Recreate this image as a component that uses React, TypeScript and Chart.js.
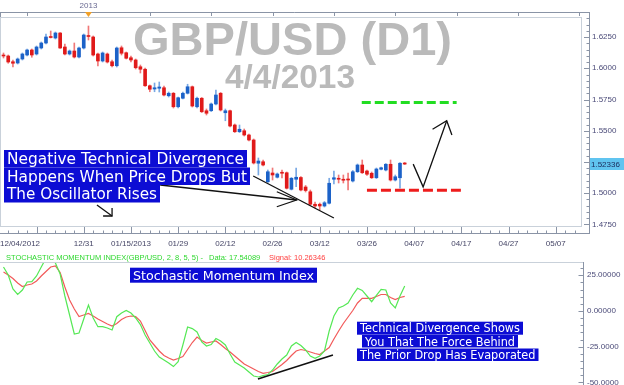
import React, { useEffect, useRef } from "react";
import { Chart, registerables } from "chart.js";

Chart.register(...registerables);

// ---------------- DATA ----------------
const opens = [
  1.6106, 1.6098, 1.6052, 1.6042, 1.6074, 1.6106, 1.6146, 1.6114, 1.6162, 1.6202,
  1.6254, 1.6242, 1.6282, 1.6170, 1.6114, 1.6138, 1.6090, 1.6162, 1.6262, 1.6250,
  1.6114, 1.6058, 1.6114, 1.6052, 1.6020, 1.6164, 1.6124, 1.6084, 1.6066, 1.6012,
  1.5992, 1.5860, 1.5834, 1.5840, 1.5844, 1.5780, 1.5800, 1.5692, 1.5760, 1.5800,
  1.5852, 1.5692, 1.5760, 1.5660, 1.5660, 1.5714, 1.5800, 1.5644, 1.5660, 1.5546,
  1.5492, 1.5500, 1.5466, 1.5426, 1.5240, 1.5252, 1.5092, 1.5162, 1.5128, 1.5164,
  1.5164, 1.5032, 1.5112, 1.5126, 1.5050, 1.5012, 1.4912, 1.4912, 1.4898, 1.4920,
  1.5112, 1.5120, 1.5112, 1.5114, 1.5098, 1.5172, 1.5226, 1.5178, 1.5160, 1.5124,
  1.5192, 1.5186, 1.5232, 1.5106, 1.5124, 1.5242,
];
const highs = [
  1.6122, 1.6106, 1.6066, 1.6082, 1.6122, 1.6154, 1.6154, 1.6178, 1.6210, 1.6274,
  1.6298, 1.6290, 1.6286, 1.6194, 1.6146, 1.6202, 1.6170, 1.6274, 1.6338, 1.6258,
  1.6122, 1.6130, 1.6122, 1.6066, 1.6170, 1.6178, 1.6130, 1.6098, 1.6074, 1.6026,
  1.6002, 1.5866, 1.5882, 1.5890, 1.5858, 1.5810, 1.5806, 1.5770, 1.5810, 1.5872,
  1.5858, 1.5770, 1.5766, 1.5674, 1.5722, 1.5826, 1.5806, 1.5674, 1.5666, 1.5554,
  1.5546, 1.5514, 1.5474, 1.5434, 1.5282, 1.5266, 1.5186, 1.5202, 1.5162, 1.5186,
  1.5170, 1.5126, 1.5202, 1.5134, 1.5062, 1.5026, 1.4930, 1.4922, 1.4934, 1.5120,
  1.5178, 1.5146, 1.5146, 1.5162, 1.5182, 1.5234, 1.5266, 1.5186, 1.5170, 1.5202,
  1.5210, 1.5238, 1.5266, 1.5146, 1.5246, 1.5246,
];
const lows = [
  1.6082, 1.6040, 1.6010, 1.6034, 1.6066, 1.6098, 1.6088, 1.6106, 1.6154, 1.6194,
  1.6242, 1.6234, 1.6158, 1.6106, 1.6106, 1.6082, 1.6082, 1.6154, 1.6226, 1.6098,
  1.6018, 1.6050, 1.6042, 1.6010, 1.6010, 1.6106, 1.6074, 1.6050, 1.5994, 1.5962,
  1.5854, 1.5812, 1.5812, 1.5810, 1.5778, 1.5770, 1.5682, 1.5682, 1.5754, 1.5794,
  1.5690, 1.5682, 1.5646, 1.5626, 1.5654, 1.5706, 1.5658, 1.5580, 1.5530, 1.5486,
  1.5486, 1.5458, 1.5418, 1.5234, 1.5146, 1.5218, 1.5086, 1.5106, 1.5122, 1.5122,
  1.5034, 1.5026, 1.5052, 1.5018, 1.5010, 1.4902, 1.4882, 1.4866, 1.4890, 1.4914,
  1.5074, 1.5082, 1.5082, 1.5026, 1.5090, 1.5166, 1.5158, 1.5142, 1.5118, 1.5118,
  1.5186, 1.5178, 1.5098, 1.5098, 1.5040, 1.5230,
];
const closes = [
  1.6098, 1.6050, 1.6040, 1.6074, 1.6114, 1.6146, 1.6106, 1.6170, 1.6202, 1.6250,
  1.6246, 1.6282, 1.6162, 1.6114, 1.6138, 1.6090, 1.6162, 1.6266, 1.6254, 1.6106,
  1.6058, 1.6122, 1.6050, 1.6020, 1.6162, 1.6120, 1.6080, 1.6066, 1.6004, 1.5992,
  1.5860, 1.5832, 1.5844, 1.5850, 1.5786, 1.5800, 1.5692, 1.5764, 1.5800, 1.5852,
  1.5698, 1.5760, 1.5652, 1.5640, 1.5714, 1.5786, 1.5666, 1.5660, 1.5538, 1.5492,
  1.5512, 1.5466, 1.5426, 1.5242, 1.5258, 1.5226, 1.5172, 1.5146, 1.5154, 1.5160,
  1.5040, 1.5120, 1.5128, 1.5026, 1.5022, 1.4912, 1.4898, 1.4898, 1.4924, 1.5080,
  1.5124, 1.5112, 1.5104, 1.5106, 1.5172, 1.5226, 1.5164, 1.5152, 1.5124, 1.5194,
  1.5204, 1.5232, 1.5106, 1.5132, 1.5240, 1.52336,
];
const lastPrice = 1.52336;

const smiValues = [
  30.8, 25.2, 15.4, 11.6, 14.7, 20.3, 20.5, 24.5, 30.8, 36.9,
  36.9, 33.6, 25.9, 10.5, -2.8, -16.1, -15.4, -5.6, 4.2, -4.9,
  -11.0, -11.0, -11.9, -13.3, -4.0, -1.4, 0.4, -1.4, -4.9, -9.5,
  -16.8, -22.4, -28.0, -32.2, -34.3, -36.4, -38.9, -35.4, -23.8, -11.2,
  -12.3, -14.7, -21.7, -24.5, -23.5, -19.3, -21.0, -23.8, -30.1, -35.7,
  -37.8, -39.9, -42.7, -45.5, -46.2, -45.2, -44.5, -41.3, -37.1, -33.6,
  -30.8, -24.5, -22.1, -24.2, -27.3, -31.5, -33.1, -31.5, -28.0, -14.0,
  -3.5, 2.1, 3.5, 5.6, 11.2, 15.9, 14.4, 10.5, 6.5, 10.9,
  15.1, 14.7, 5.6, 2.1, 10.5, 17.54089,
];
const signalValues = [
  27.3, 25.2, 22.75, 19.6, 17.15, 18.2, 18.9, 21.0, 24.5, 27.65,
  30.8, 31.5, 26.95, 16.8, 7.7, 1.4, -3.85, -2.8, -1.75, -3.5,
  -5.6, -7.35, -9.1, -10.5, -8.75, -5.95, -4.2, -3.5, -3.85, -7.0,
  -13.65, -20.3, -24.15, -28.0, -31.15, -32.9, -34.3, -33.25, -31.85, -26.95,
  -22.05, -18.2, -20.65, -22.4, -21.7, -21.0, -23.45, -26.25, -28.7, -31.5,
  -34.3, -37.1, -38.85, -40.6, -42.35, -43.6, -43.05, -42.35, -39.9, -37.45,
  -34.65, -31.15, -28.0, -26.95, -27.65, -28.7, -29.75, -30.45, -28.0, -25.55,
  -19.6, -14.0, -8.75, -4.2, 0.35, 5.6, 8.9, 8.9, 8.9, 10.15,
  11.55, 11.55, 9.45, 8.05, 9.45, 10.26346,
];
const smiLastText = "17.54089";
const signalLastText = "10.26346";

const priceTicks = [1.475, 1.5, 1.525, 1.55, 1.575, 1.6, 1.625];
const dateTickBars = [7, 17, 27, 37, 47, 57, 67, 77, 87, 97, 107, 117];
const dateTickLabels = ["", "12/31", "01/15/2013", "01/29", "02/12", "02/26", "03/12", "03/26", "04/07", "04/17", "04/27", "05/07"];
const firstDateLabel = "12/04/2012";
const smiTicks = [25, 0, -25, -50];
const smiTickLabels = ["25.00000", "0.00000", "-25.0000", "-50.0000"];
const yearMarkerBar = 18;
const yearLabel = "2013";
const targetLevel = 1.5727;
const supportLevel = 1.5025;

// ---------------- STYLE / LAYOUT ----------------
const X_MIN = -0.742;
const X_MAX = 122.56;
const TOP_H = 252;
const BOT_H = 133;
const UP = "#1c62c8";
const DOWN = "#e01a1a";
const UP_WICK = "#78a8e4";
const DOWN_WICK = "#f07878";
const AXIS = "#8a94a6";
const FRAME = "#c9d1da";
const LABEL = "#4a4a78";
const BOX_BLUE = "#0c0cd4";
const SANS = "'Liberation Sans', Arial, sans-serif";
const BOXF = "'DejaVu Sans', Verdana, sans-serif";

function fitText(ctx: CanvasRenderingContext2D, text: string, x: number, baseline: number, width: number, font: string) {
  ctx.save();
  ctx.font = font;
  const w = ctx.measureText(text).width;
  ctx.translate(x, baseline);
  ctx.scale(width / w, 1);
  ctx.textBaseline = "alphabetic";
  ctx.textAlign = "left";
  ctx.fillText(text, 0, 0);
  ctx.restore();
}

function boxLine(ctx: CanvasRenderingContext2D, text: string, x: number, y: number, w: number, h: number, fontPx: number, base: number) {
  ctx.save();
  ctx.fillStyle = BOX_BLUE;
  ctx.fillRect(x, y, w, h);
  ctx.fillStyle = "#ffffff";
  fitText(ctx, text, x + 3, y + base, w - 6, `${fontPx}px ${BOXF}`);
  ctx.restore();
}

function polyline(ctx: CanvasRenderingContext2D, pts: number[][]) {
  ctx.beginPath();
  pts.forEach((p, i) => (i === 0 ? ctx.moveTo(p[0], p[1]) : ctx.lineTo(p[0], p[1])));
  ctx.stroke();
}

const topDecor = {
  id: "topDecor",
  beforeDatasetsDraw(chart: any) {
    const { ctx } = chart;
    ctx.save();
    ctx.fillStyle = "#bababa";
    fitText(ctx, "GBP/USD (D1)", 133, 55, 319, `bold 46px ${SANS}`);
    fitText(ctx, "4/4/2013", 225, 88, 130, `bold 33px ${SANS}`);
    ctx.restore();
  },
  afterDatasetsDraw(chart: any) {
    const { ctx } = chart;
    const xs = chart.scales.x;
    const ys = chart.scales.y;
    const P = (b: number, v: number) => [xs.getPixelForValue(b), ys.getPixelForValue(v)];
    ctx.save();
    ctx.lineWidth = 3;
    ctx.setLineDash([9, 4]);
    ctx.strokeStyle = "#22dd22";
    polyline(ctx, [P(75.9, targetLevel), P(96.0, targetLevel)]);
    ctx.strokeStyle = "#ee1c1c";
    ctx.setLineDash([10, 4]);
    polyline(ctx, [P(77.0, supportLevel), P(96.9, supportLevel)]);
    ctx.setLineDash([]);
    ctx.strokeStyle = "#111111";
    ctx.lineWidth = 1.3;
    polyline(ctx, [P(86.8, 1.5233), P(88.9, 1.5051), P(93.9, 1.558)]);
    polyline(ctx, [P(90.9, 1.5512), P(93.9, 1.558), P(95.0, 1.5466)]);
    polyline(ctx, [P(52.9, 1.5138), P(70.0, 1.4802)]);
    polyline(ctx, [P(33.2, 1.5066), P(62.1, 1.4946)]);
    polyline(ctx, [P(57.9, 1.5012), P(62.1, 1.4946), P(57.9, 1.4892)]);
    polyline(ctx, [P(19.8, 1.4906), P(23.0, 1.4818)]);
    polyline(ctx, [P(21.1, 1.4818), P(23.0, 1.4818), P(23.0, 1.4882)]);
    ctx.restore();
    boxLine(ctx, "Negative Technical Divergence", 4, 150, 243, 17.5, 15, 14);
    boxLine(ctx, "Happens When Price Drops But", 4, 167.5, 246, 17.5, 15, 14);
    boxLine(ctx, "The Oscillator Rises", 4, 185, 156, 17.5, 15, 14);
  },
  afterDraw(chart: any) {
    const { ctx } = chart;
    const xs = chart.scales.x;
    const ys = chart.scales.y;
    ctx.save();
    ctx.lineWidth = 1;
    ctx.strokeStyle = FRAME;
    ctx.strokeRect(0.5, 17.5, 581, 209);
    ctx.strokeStyle = AXIS;
    polyline(ctx, [[0, 12.5], [589.5, 12.5]]);
    polyline(ctx, [[0.5, 12], [0.5, 17]]);
    for (let b = 5; b <= 122; b += 13) {
      const x = Math.round(xs.getPixelForValue(b)) + 0.5;
      polyline(ctx, [[x, 12.5], [x, 16]]);
    }
    polyline(ctx, [[589.5, 12], [589.5, 234]]);
    for (let k = 295; k <= 328; k++) {
      const y = Math.round(ys.getPixelForValue(k * 0.005)) + 0.5;
      if (y < 17 || y > 227) continue;
      polyline(ctx, [[k % 5 === 0 ? 584 : 586.5, y], [589.5, y]]);
    }
    polyline(ctx, [[0, 233.5], [589.5, 233.5]]);
    for (let b = 1; b <= 122; b += 2) {
      const x = Math.round(xs.getPixelForValue(b)) + 0.5;
      const major = dateTickBars.includes(b);
      polyline(ctx, [[x, major ? 227 : 230.5], [x, 233.5]]);
    }
    const mx = xs.getPixelForValue(yearMarkerBar);
    ctx.fillStyle = "#f0a028";
    ctx.beginPath();
    ctx.moveTo(mx - 3.5, 12);
    ctx.lineTo(mx + 3.5, 12);
    ctx.lineTo(mx, 17);
    ctx.closePath();
    ctx.fill();
    ctx.fillStyle = "#6a6a92";
    ctx.font = `8px ${SANS}`;
    ctx.textAlign = "center";
    ctx.textBaseline = "middle";
    ctx.fillText(yearLabel, mx, 5.5);
    const ly = ys.getPixelForValue(lastPrice);
    ctx.fillStyle = "#60c4f0";
    ctx.fillRect(590, Math.round(ly) - 6, 34, 12);
    ctx.fillStyle = "#1a2a5a";
    ctx.textAlign = "left";
    ctx.font = `8px ${SANS}`;
    ctx.fillText(lastPrice.toFixed(5), 591, Math.round(ly) + 0.5);
    ctx.restore();
  },
};

const botDecor = {
  id: "botDecor",
  afterDatasetsDraw(chart: any) {
    const { ctx } = chart;
    const xs = chart.scales.x;
    const ys = chart.scales.y;
    const P = (b: number, v: number) => [xs.getPixelForValue(b), ys.getPixelForValue(v)];
    ctx.save();
    ctx.strokeStyle = "#111111";
    ctx.lineWidth = 1.6;
    polyline(ctx, [P(53.9, -47.6), P(69.8, -30.8)]);
    ctx.restore();
    boxLine(ctx, "Stochastic Momentum Index", 130, 15.7, 187, 15, 13, 12);
    boxLine(ctx, "Technical Divergence Shows", 357, 69.7, 166, 13, 11.5, 10.5);
    boxLine(ctx, "You That The Force Behind", 362, 83, 156, 12.5, 11.5, 10.5);
    boxLine(ctx, "The Prior Drop Has Evaporated", 357, 96.5, 181.5, 12.5, 11.5, 10.5);
  },
  afterDraw(chart: any) {
    const { ctx } = chart;
    const ys = chart.scales.y;
    ctx.save();
    ctx.lineWidth = 1;
    ctx.strokeStyle = FRAME;
    polyline(ctx, [[0, 10.5], [583.5, 10.5]]);
    ctx.strokeStyle = AXIS;
    polyline(ctx, [[583.5, 10], [583.5, BOT_H]]);
    for (let v = -50; v <= 30; v += 5) {
      const y = Math.round(ys.getPixelForValue(v)) + 0.5;
      if (y < 11 || y > BOT_H) continue;
      polyline(ctx, [[v % 25 === 0 ? 578.5 : 580.5, y], [583.5, y]]);
    }
    ctx.font = `7.5px ${SANS}`;
    ctx.textBaseline = "alphabetic";
    ctx.textAlign = "left";
    ctx.fillStyle = "#2fd82f";
    ctx.fillText("STOCHASTIC MOMENTUM INDEX(GBP/USD, 2, 8, 5, 5) -", 6, 8);
    ctx.fillText("Data: " + smiLastText, 209, 8);
    ctx.fillStyle = "#ff4040";
    ctx.fillText("Signal: " + signalLastText, 269, 8);
    ctx.restore();
  },
};

export default function App() {
  const topRef = useRef<HTMLCanvasElement>(null);
  const botRef = useRef<HTMLCanvasElement>(null);

  useEffect(() => {
    const idx = opens.map((_, i) => i);
    const up = (i: number) => closes[i] >= opens[i];

    const top = new Chart(topRef.current as HTMLCanvasElement, {
      type: "bar",
      data: {
        datasets: [
          {
            label: "body",
            data: idx.map((i) => ({ x: i, y: [opens[i], closes[i]] })) as any,
            backgroundColor: idx.map((i) => (up(i) ? UP : DOWN)),
            barThickness: 3,
            grouped: false,
            minBarLength: 1,
            borderWidth: 0,
          } as any,
          {
            label: "wick",
            data: idx.map((i) => ({ x: i, y: [lows[i], highs[i]] })) as any,
            backgroundColor: idx.map((i) => (up(i) ? UP_WICK : DOWN_WICK)),
            barThickness: 1,
            grouped: false,
            borderWidth: 0,
          } as any,
        ],
      },
      options: {
        responsive: false,
        maintainAspectRatio: false,
        animation: false,
        layout: { padding: { top: 17, left: 0, right: 0, bottom: 0 } },
        plugins: { legend: { display: false }, tooltip: { enabled: false } },
        scales: {
          x: {
            type: "linear",
            min: X_MIN,
            max: X_MAX,
            offset: false,
            grid: { display: false, drawTicks: false, offset: false },
            border: { display: false },
            afterBuildTicks: (s: any) => {
              s.ticks = [{ value: X_MIN }, ...dateTickBars.map((v) => ({ value: v })), { value: X_MAX }];
            },
            afterFit: (s: any) => {
              s.height = TOP_H - 227;
              s.paddingLeft = 0;
              s.paddingRight = 0;
            },
            ticks: {
              autoSkip: false,
              maxRotation: 0,
              minRotation: 0,
              align: "inner",
              padding: 12,
              color: "#454566",
              font: { family: SANS, size: 8 },
              callback: (v: any) => {
                if (v === X_MIN) return firstDateLabel;
                const k = dateTickBars.indexOf(v);
                return k >= 0 ? dateTickLabels[k] : "";
              },
            },
          } as any,
          y: {
            position: "right",
            min: 1.473,
            max: 1.641,
            grid: { display: false, drawTicks: false },
            border: { display: false },
            afterBuildTicks: (s: any) => {
              s.ticks = priceTicks.map((v) => ({ value: v }));
            },
            afterFit: (s: any) => {
              s.width = 42;
              s.paddingTop = 0;
              s.paddingBottom = 0;
            },
            ticks: {
              padding: 10,
              color: LABEL,
              font: { family: SANS, size: 8 },
              callback: (v: any) => Number(v).toFixed(4),
            },
          } as any,
        },
      },
      plugins: [topDecor],
    });

    const bot = new Chart(botRef.current as HTMLCanvasElement, {
      type: "line",
      data: {
        datasets: [
          {
            label: "SMI",
            data: smiValues.map((v, i) => ({ x: i, y: v })),
            borderColor: "#55e855",
            borderWidth: 1.2,
            pointRadius: 0,
            tension: 0,
          },
          {
            label: "Signal",
            data: signalValues.map((v, i) => ({ x: i, y: v })),
            borderColor: "#f25a5a",
            borderWidth: 1.2,
            pointRadius: 0,
            tension: 0,
          },
        ],
      },
      options: {
        responsive: false,
        maintainAspectRatio: false,
        animation: false,
        layout: { padding: { top: 11, left: 0, right: 0, bottom: 0 } },
        plugins: { legend: { display: false }, tooltip: { enabled: false } },
        scales: {
          x: { type: "linear", min: X_MIN, max: X_MAX, display: false },
          y: {
            position: "right",
            min: -51.8,
            max: 33.6,
            grid: { display: false, drawTicks: false },
            border: { display: false },
            afterBuildTicks: (s: any) => {
              s.ticks = smiTicks.map((v) => ({ value: v }));
            },
            afterFit: (s: any) => {
              s.width = 42;
              s.paddingTop = 0;
              s.paddingBottom = 0;
            },
            ticks: {
              padding: 5,
              color: LABEL,
              font: { family: SANS, size: 8 },
              callback: (v: any) => {
                const k = smiTicks.indexOf(Number(v));
                return k >= 0 ? smiTickLabels[k] : "";
              },
            },
          } as any,
        },
      },
      plugins: [botDecor],
    });

    return () => {
      top.destroy();
      bot.destroy();
    };
  }, []);

  return (
    <div style={{ position: "absolute", left: 0, top: 0, width: 624, height: 385, background: "#ffffff", overflow: "hidden" }}>
      <canvas ref={topRef} width={624} height={TOP_H} style={{ position: "absolute", left: 0, top: 0, width: 624, height: TOP_H }} />
      <canvas ref={botRef} width={624} height={BOT_H} style={{ position: "absolute", left: 0, top: TOP_H, width: 624, height: BOT_H }} />
    </div>
  );
}
